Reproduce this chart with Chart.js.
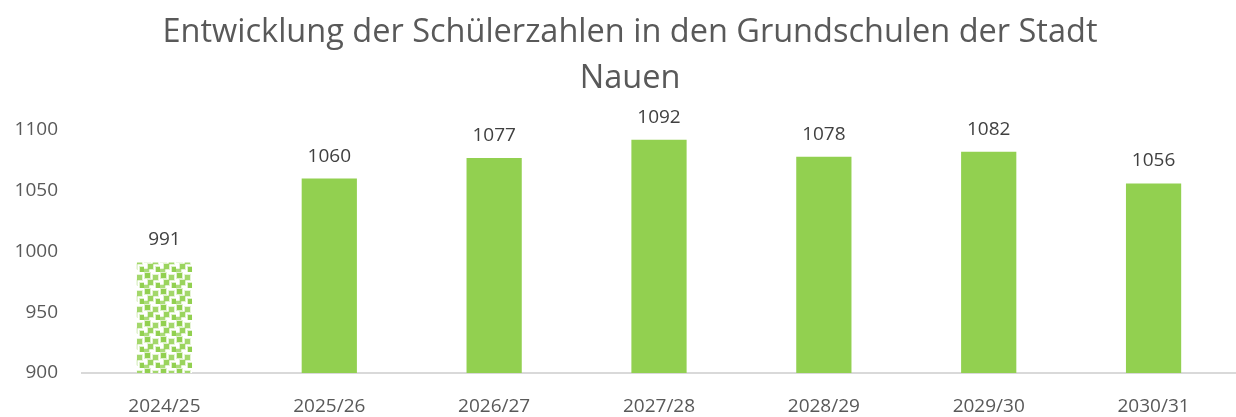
<!DOCTYPE html>
<html>
<head>
<meta charset="utf-8">
<script src="https://cdn.jsdelivr.net/npm/chart.js@4"></script>
<style>
  html, body { margin: 0; padding: 0; background: #fff; }
  #wrap { width: 1236px; height: 417px; }
</style>
</head>
<body>
<div id="wrap"><canvas id="schueler"></canvas></div>
<script>
const years = ['2024/25', '2025/26', '2026/27', '2027/28', '2028/29', '2029/30', '2030/31'];
const pupils = [991, 1060, 1077, 1092, 1078, 1082, 1056];
const yTicks = [900, 950, 1000, 1050, 1100];

const green = '#92D050';

// dotted pattern for the first (actual) year
const makePattern = () => {
  const c = document.createElement('canvas');
  c.width = 16;
  c.height = 16;
  const g = c.getContext('2d');
  g.fillStyle = '#fff';
  g.fillRect(0, 0, 16, 16);
  const squares = [[1, 1, 1], [9, 3, 0.8], [4, 8, 0.9], [12, 11, 1], [0, 13, 0.7]];
  squares.forEach(([x, y, a]) => {
    g.fillStyle = 'rgba(146,208,80,' + (0.3 * a) + ')';
    g.fillRect(x - 1, y - 1, 7, 7);
    g.fillStyle = 'rgba(146,208,80,' + a + ')';
    g.fillRect(x, y, 5, 5);
  });
  return g.createPattern(c, 'repeat');
};

const barColors = pupils.map((v, i) => i === 0 ? makePattern() : green);

const valueLabels = {
  id: 'valueLabels',
  afterLayout(chart) {
    // title in the original sits centred over the plot, not the canvas
    chart.titleBlock.left += 12;
    chart.titleBlock.right += 12;
  },
  afterDatasetsDraw(chart) {
    const ctx = chart.ctx;
    const meta = chart.getDatasetMeta(0);
    ctx.save();
    ctx.font = '19px "Open Sans"';
    ctx.fillStyle = '#404040';
    ctx.textAlign = 'center';
    ctx.textBaseline = 'bottom';
    meta.data.forEach((bar, i) => {
      ctx.fillText(pupils[i], bar.x, bar.y - 13);
    });
    ctx.restore();
  }
};

new Chart(document.getElementById('schueler'), {
  type: 'bar',
  data: {
    labels: years,
    datasets: [{
      data: pupils,
      backgroundColor: barColors,
      borderWidth: 0,
      barPercentage: 0.335,
      categoryPercentage: 1
    }]
  },
  options: {
    responsive: true,
    maintainAspectRatio: false,
    animation: false,
    layout: { padding: { left: 0, right: 0, top: 0, bottom: 0 } },
    plugins: {
      legend: { display: false },
      tooltip: { enabled: false },
      title: {
        display: true,
        text: ['Entwicklung der Schülerzahlen in den Grundschulen der Stadt', 'Nauen'],
        color: '#595959',
        font: { family: 'Open Sans', size: 32.5, weight: 'normal', lineHeight: 1.4 },
        padding: { top: 10, bottom: 29 }
      }
    },
    scales: {
      x: {
        afterFit: (axis) => { axis.height = 44; },
        grid: { display: false, drawTicks: false },
        border: { display: true, color: '#D9D9D9', width: 2 },
        ticks: { color: '#595959', font: { family: 'Open Sans', size: 19 }, padding: 22 }
      },
      y: {
        min: 900,
        max: 1100,
        afterBuildTicks: (axis) => { axis.ticks = yTicks.map(v => ({ value: v })); },
        afterFit: (axis) => { axis.width = 82; },
        grid: { display: false, drawTicks: false },
        border: { display: false },
        ticks: {
          color: '#595959',
          font: { family: 'Open Sans', size: 19 },
          padding: 24,
          callback: (v) => String(v)
        }
      }
    }
  },
  plugins: [valueLabels]
});
</script>
</body>
</html>
